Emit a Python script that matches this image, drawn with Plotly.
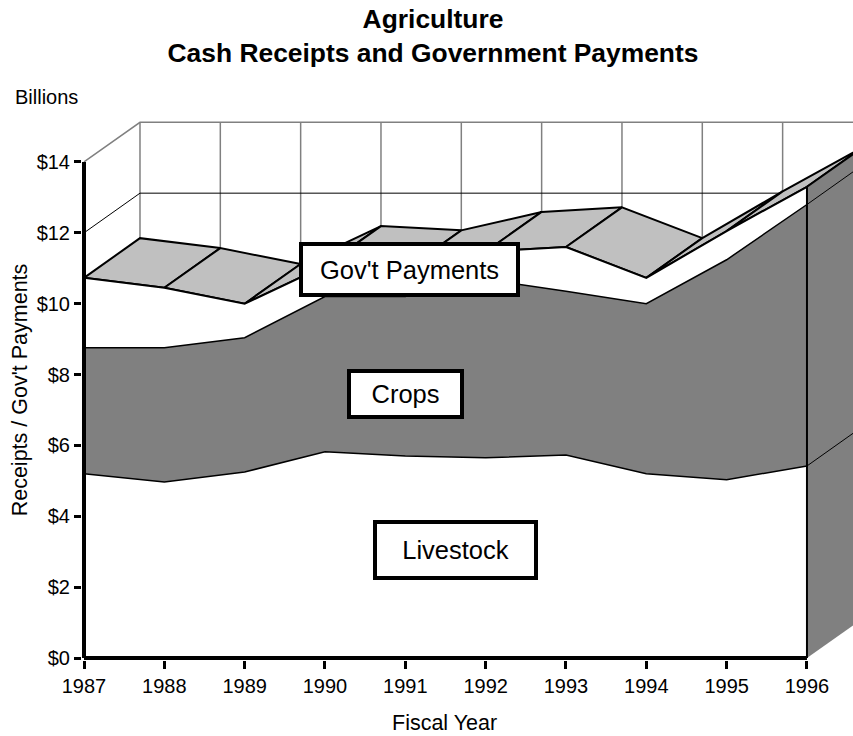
import numpy as np
import plotly.graph_objects as go

years = [1987, 1988, 1989, 1990, 1991, 1992, 1993, 1994, 1995, 1996]
livestock = [5.2, 4.97, 5.25, 5.82, 5.7, 5.65, 5.73, 5.2, 5.03, 5.42]
crops = [3.56, 3.79, 3.79, 4.38, 4.5, 5.03, 4.62, 4.8, 6.21, 7.38]
govt = [1.97, 1.69, 0.96, 0.87, 0.75, 0.79, 1.25, 0.73, 0.81, 0.5]
y_ticks = [0, 2, 4, 6, 8, 10, 12, 14]
y_labels = ["$0", "$2", "$4", "$6", "$8", "$10", "$12", "$14"]
series_labels = ["Livestock", "Crops", "Gov't Payments"]

DX, DY = 0.697, 1.12
GRID = "#808080"
DARK = "#808080"
LIGHT = "#c0c0c0"

yr = np.array(years, dtype=float)
top1 = np.array(livestock)
top2 = top1 + np.array(crops)
top3 = top2 + np.array(govt)

fig = go.Figure()


def line(x, y, color="black", width=1.0):
    fig.add_trace(go.Scatter(x=list(x), y=list(y), mode="lines",
                             line=dict(color=color, width=width), hoverinfo="skip"))


def poly(x, y, fill, color="black", width=0.0):
    fig.add_trace(go.Scatter(x=list(x), y=list(y), mode="lines", fill="toself", fillcolor=fill,
                             line=dict(color=color, width=width), hoverinfo="skip"))


# Back wall and left wall gridlines
for yv in yr:
    line([yv + DX, yv + DX], [0, 14 + DY], GRID, 1.5)
line([yr[0], yr[0] + DX, yr[-1] + DX], [14, 14 + DY, 14 + DY], GRID, 1.5)
line([yr[0], yr[0] + DX, yr[-1] + DX], [12, 12 + DY, 12 + DY], "black", 1)

# Top surface of the government payments band
for i in range(len(yr) - 1):
    poly([yr[i], yr[i] + DX, yr[i + 1] + DX, yr[i + 1], yr[i]],
         [top3[i], top3[i] + DY, top3[i + 1] + DY, top3[i + 1], top3[i]],
         LIGHT, "black", 2)

# Front faces
poly(np.r_[yr, yr[::-1]], np.r_[top3, np.zeros(len(yr))], "white")
poly(np.r_[yr, yr[::-1]], np.r_[top2, top1[::-1]], DARK)
line(yr, top3, "black", 2)
line(yr, top2, "black", 1.5)
line(yr, top1, "black", 1.5)

# Right side face
xs = [yr[-1], yr[-1] + DX, yr[-1] + DX, yr[-1]]
poly(xs + xs[:1], [0, DY, top3[-1] + DY, top3[-1], 0], DARK)
line([yr[-1], yr[-1] + DX], [top3[-1], top3[-1] + DY], "black", 2)
line([yr[-1], yr[-1] + DX], [top2[-1], top2[-1] + DY], "black", 1)
line([yr[-1], yr[-1] + DX], [top1[-1], top1[-1] + DY], "black", 1)
line([yr[-1], yr[-1]], [0, top3[-1]], "black", 2)

# Heavy axis lines
line([yr[0], yr[0]], [0, 14], "black", 4)
line([yr[0], yr[-1]], [0, 0], "black", 4)

FONT = "Liberation Sans"


def box(text, x, y, w, h):
    fig.add_annotation(x=x, y=y, xref="x", yref="y", text=text, showarrow=False,
                       width=w, height=h, bgcolor="white", bordercolor="black", borderwidth=4,
                       font=dict(family=FONT, size=25.5, color="black"))


box(series_labels[2], 1991.05, 10.96, 211, 45)
box(series_labels[1], 1991.0, 7.44, 107, 40)
box(series_labels[0], 1991.62, 3.05, 155, 50)

fig.add_annotation(xref="paper", yref="paper", x=-0.09, y=1.043, xanchor="left", yanchor="middle",
                   text="Billions", showarrow=False, font=dict(family=FONT, size=20, color="black"))
fig.add_annotation(xref="paper", yref="paper", x=(444.5 - 82) / 771, y=-(722.5 - 660) / 540,
                   xanchor="center", yanchor="middle",
                   text="Fiscal Year", showarrow=False, font=dict(family=FONT, size=21.5, color="black"))

fig.update_layout(
    width=853, height=736, autosize=False, showlegend=False,
    paper_bgcolor="white", plot_bgcolor="white",
    margin=dict(l=82, r=0, t=120, b=76),
    font=dict(family=FONT, color="black"),
    title=dict(text="<b>Agriculture<br>Cash Receipts and Government Payments</b>",
               x=433 / 853, xanchor="center", y=0.962, yanchor="top",
               font=dict(family=FONT, size=26.4, color="black")),
    xaxis=dict(range=[1987 - 2 / 80.33, 1987 + 769 / 80.33], tickvals=years, ticktext=[str(v) for v in years],
               showgrid=False, zeroline=False, showline=False,
               ticks="outside", ticklen=8, tickwidth=3, tickcolor="black",
               tickfont=dict(family=FONT, size=20, color="black")),
    yaxis=dict(range=[-2 / 35.43, 538 / 35.43], tickvals=y_ticks, ticktext=y_labels,
               showgrid=False, zeroline=False, showline=False,
               ticks="outside", ticklen=7, tickwidth=3, tickcolor="black",
               tickfont=dict(family=FONT, size=20, color="black"),
               title=dict(text="Receipts / Gov't Payments", font=dict(family=FONT, size=21.5, color="black"), standoff=3)),
)

fig.write_html("out.html", post_script="document.body.style.margin='0';", config={"displayModeBar": False})
